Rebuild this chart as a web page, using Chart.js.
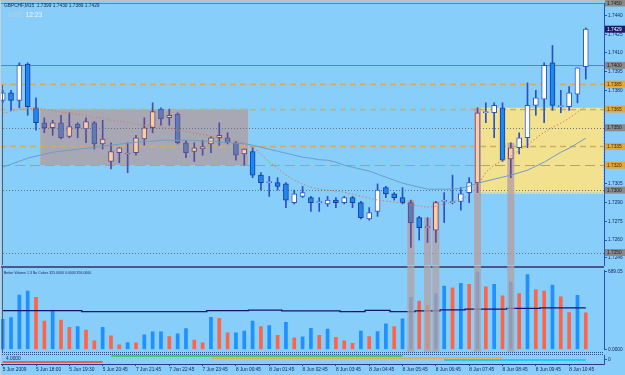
<!DOCTYPE html>
<html>
<head>
<meta charset="utf-8">
<script src="https://cdn.jsdelivr.net/npm/chart.js@4.4.1/dist/chart.umd.min.js"></script>
<style>
html,body{margin:0;padding:0;}
body{width:625px;height:375px;overflow:hidden;background:#87CEFA;}
#wrap{position:relative;width:625px;height:375px;background:#87CEFA;}
canvas{position:absolute;left:0;display:block;}
</style>
</head>
<body>
<div id="wrap">
<canvas id="cMain" width="625" height="266" style="top:0"></canvas>
<canvas id="cVol" width="625" height="89" style="top:266px"></canvas>
<canvas id="cInd" width="625" height="20" style="top:355px"></canvas>
</div>
<script>
// ---------------- DATA ----------------
const symbolTitle = 'GBPCHF,M15  1.7399 1.7430 1.7389 1.7429';
const gmtLabel = 'GMT:';
const gmtTime = '12:23';
const volTitle = 'Better Volume 1.3 No Colors 325.0000 0.0000 356.0000';
const stripTitle = '4.0000';

const openP  = [1.7372,1.7378,1.7372,1.7401,1.7366,1.7354,1.7350,1.7354,1.7343,1.7353,
                1.7349,1.7354,1.7337,1.7323,1.7330,1.7329,1.7330,1.7341,1.7350,1.7365,
                1.7358,1.7361,1.7338,1.7331,1.7333,1.7337,1.7342,1.7342,1.7338,1.7329,
                1.7331,1.7312,1.7306,1.7306,1.7305,1.7290,1.7295,1.7294,1.7290,1.7289,
                1.7292,1.7290,1.7294,1.7290,1.7277,1.7283,1.7302,1.7297,1.7294,1.7290,
                1.7278,1.7270,1.7268,1.7291,1.7290,1.7291,1.7298,1.7306,1.7362,1.7362,
                1.7366,1.7325,1.7334,1.7342,1.7368,1.7373,1.7402,1.7367,1.7367,1.7377,
                1.7399];
const highP  = [1.7380,1.7380,1.7402,1.7402,1.7374,1.7358,1.7356,1.7360,1.7362,1.7354,
                1.7358,1.7355,1.7356,1.7338,1.7334,1.7338,1.7344,1.7358,1.7370,1.7366,
                1.7365,1.7362,1.7340,1.7338,1.7340,1.7343,1.7354,1.7346,1.7339,1.7333,
                1.7334,1.7314,1.7311,1.7310,1.7306,1.7300,1.7303,1.7295,1.7294,1.7295,
                1.7294,1.7295,1.7295,1.7291,1.7286,1.7305,1.7303,1.7298,1.7302,1.7292,
                1.7279,1.7278,1.7291,1.7298,1.7312,1.7302,1.7310,1.7366,1.7370,1.7370,
                1.7370,1.7338,1.7346,1.7386,1.7380,1.7402,1.7416,1.7380,1.7383,1.7398,
                1.7430];
const lowP   = [1.7370,1.7364,1.7366,1.7360,1.7348,1.7346,1.7344,1.7341,1.7342,1.7342,
                1.7338,1.7333,1.7333,1.7317,1.7322,1.7314,1.7328,1.7336,1.7346,1.7352,
                1.7352,1.7337,1.7326,1.7323,1.7328,1.7330,1.7336,1.7337,1.7324,1.7320,
                1.7310,1.7300,1.7295,1.7300,1.7286,1.7289,1.7294,1.7283,1.7283,1.7287,
                1.7286,1.7289,1.7286,1.7277,1.7276,1.7279,1.7294,1.7292,1.7289,1.7254,
                1.7260,1.7258,1.7258,1.7274,1.7289,1.7284,1.7290,1.7298,1.7354,1.7342,
                1.7323,1.7310,1.7329,1.7334,1.7360,1.7354,1.7364,1.7362,1.7364,1.7370,
                1.7389];
const closeP = [1.7378,1.7372,1.7400,1.7367,1.7354,1.7350,1.7354,1.7342,1.7351,1.7350,
                1.7355,1.7337,1.7341,1.7331,1.7334,1.7329,1.7342,1.7350,1.7363,1.7357,
                1.7360,1.7338,1.7330,1.7334,1.7335,1.7342,1.7344,1.7338,1.7328,1.7333,
                1.7312,1.7306,1.7306,1.7303,1.7292,1.7297,1.7298,1.7290,1.7290,1.7292,
                1.7290,1.7294,1.7290,1.7278,1.7282,1.7300,1.7297,1.7294,1.7290,1.7274,
                1.7270,1.7270,1.7290,1.7291,1.7290,1.7297,1.7306,1.7362,1.7363,1.7368,
                1.7324,1.7334,1.7342,1.7368,1.7374,1.7400,1.7368,1.7367,1.7378,1.7398,
                1.7429];

const fastMA = [1.73616,1.73632,1.73648,1.73656,1.73656,1.73648,1.73640,1.73624,1.73616,1.73608,
                1.73600,1.73584,1.73576,1.73560,1.73552,1.73544,1.73528,1.73520,1.73512,1.73504,
                1.73496,1.73480,1.73472,1.73456,1.73448,1.73432,1.73416,1.73408,1.73392,1.73376,
                1.73344,1.73288,1.73224,1.73176,1.73120,1.73080,1.73048,1.73024,1.73008,1.73000,
                1.72992,1.72984,1.72968,1.72952,1.72936,1.72920,1.72912,1.72904,1.72896,1.72888,
                1.72872,1.72864,1.72872,1.72888,1.72904,1.72928,1.72960,1.73032,1.73144,1.73200,
                1.73240,1.73272,1.73320,1.73360,1.73416,1.73464,1.73504,1.73536,1.73576,1.73624,
                1.73672];
const slowMA = [1.73184,1.73208,1.73232,1.73256,1.73272,1.73288,1.73304,1.73312,1.73320,1.73328,
                1.73336,1.73344,1.73352,1.73360,1.73368,1.73376,1.73384,1.73392,1.73392,1.73400,
                1.73400,1.73400,1.73400,1.73400,1.73392,1.73392,1.73384,1.73384,1.73376,1.73372,
                1.73360,1.73344,1.73328,1.73312,1.73296,1.73280,1.73264,1.73256,1.73244,1.73240,
                1.73224,1.73200,1.73184,1.73168,1.73152,1.73128,1.73104,1.73080,1.73056,1.73040,
                1.73024,1.73008,1.73008,1.73008,1.73008,1.73016,1.73032,1.73056,1.73072,1.73088,
                1.73104,1.73120,1.73140,1.73160,1.73192,1.73224,1.73264,1.73304,1.73336,1.73376,
                1.73416];

const volume = [268,283,484,520,464,253,342,262,197,203,
                173,76,197,120,40,60,58,129,156,156,
                114,138,185,84,58,286,277,147,147,164,
                251,203,212,126,242,102,111,188,126,180,
                108,76,55,164,114,158,227,203,271,464,
                431,390,496,564,547,588,579,689.05,556,579,
                476,600,496,665,532,520,573,467,327,482,
                325];
const volMA  = [345,345,345,345,345,345,345,345,345,345,
                336,336,336,336,336,336,336,336,336,336,
                336,336,336,336,336,345,345,345,345,345,
                350,350,350,350,342,342,342,342,342,342,
                342,336,336,336,348,348,348,336,336,336,
                342,342,342,352,352,352,358,358,358,358,
                358,365,365,365,365,370,370,370,370,370,
                370];

const yTickVals   = [1.7440,1.7425,1.7410,1.7395,1.7380,1.7365,1.7350,1.7335,1.7320,1.7305,1.7290,1.7275,1.7260,1.7246];
const yTickLabels = ['1.7440','1.7425','1.7410','1.7395','1.7380','1.7365','1.7350','1.7335','1.7320','1.7305','1.7290','1.7275','1.7260','1.7246'];
const xTickIdx    = [0,4,8,12,16,20,24,28,32,36,40,44,48,52,56,60,64,68];
const xTickLabels = ['5 Jun 2009','5 Jun 18:00','5 Jun 19:30','5 Jun 20:45','7 Jun 21:45','7 Jun 22:45','7 Jun 23:45',
                     '8 Jun 00:45','8 Jun 01:45','8 Jun 02:45','8 Jun 03:45','8 Jun 04:45','8 Jun 05:45','8 Jun 06:45',
                     '8 Jun 07:45','8 Jun 08:45','8 Jun 09:45','8 Jun 10:45'];
const volTickVals   = [0, 689.05];
const volTickLabels = ['0.0000','689.05'];

const greyLevels   = [1.7450,1.7400,1.7350,1.7300,1.7250];
const orangeLevels = [1.7385,1.7365,1.7335,1.7320];
const currentPrice = 1.7429;
const bandBars = [49,51,52,57,61];
const greyBoxBars = [4.48,29.45], greyBoxPrices = [1.7320,1.7365];
const yellowBoxBars = [56.58,72.07], yellowBoxPrices = [1.7298,1.7366];
// indicator strip: [startBar, endBar, level]
const stripRed    = [0,12,-0.56];
const stripGreen  = [13,48,0.78];
const stripOrange = [25,60,0.33];
const stripCyan   = [53,70,-0.11];

// ---------------- LAYOUT / STYLE ----------------
const X_MIN = -0.324, X_MAX = 72.186;
const FONT = "'Liberation Sans', Arial, sans-serif";
const AXIS_BLUE = '#2A50C0';
const TXT = '#18205A';
Chart.defaults.font.family = FONT;
Chart.defaults.animation = false;

const idx = openP.map((_, i) => i);
const isUp = i => closeP[i] >= openP[i];
const special = i => (i > greyBoxBars[0] && i < greyBoxBars[1]) || bandBars.includes(i);
const bodyFill = idx.map(i => special(i) ? (isUp(i) ? '#FFCC9E' : '#5E7DB2') : (isUp(i) ? '#FFFFFF' : '#1E88F2'));
const bodyEdge = idx.map(i => special(i) ? '#5B4A9C' : (isUp(i) ? '#2E56C8' : '#1A3A9C'));
const wickCol  = idx.map(i => special(i) ? '#5B4A9C' : '#2A50C4');
const volCol   = volume.map((v, i) => (i === 0 || v >= volume[i - 1]) ? '#1E90FF' : '#FF6446');

function rightAxisFit(s){ s.width = 21; s.paddingTop = 0; s.paddingBottom = 0; }
const xHidden = {type:'linear', min:X_MIN, max:X_MAX, display:false, offset:false};
const baseOpts = {responsive:false, animation:false, devicePixelRatio:1,
  plugins:{legend:{display:false}, tooltip:{enabled:false}}};

function levelStyle(p, grey){
  if (grey) {
    const solid = p >= 1.7400;
    return {p, c: solid ? '#76808E' : '#687280', dash: solid ? [] : [1,2], w:1};
  }
  const longDash = Math.abs(p - 1.7320) < 1e-6;
  return {p, c: longDash ? '#B4A266' : '#D2AA60', dash: longDash ? [10,5] : [6,4], w: longDash ? 1 : 1.5};
}
const levelLines = greyLevels.map(p => levelStyle(p, true)).concat(orangeLevels.map(p => levelStyle(p, false)));

const priceTags = greyLevels.map(p => ({p, kind:'grey'}))
  .concat(orangeLevels.map(p => ({p, kind:'orange'})))
  .concat([{p: currentPrice, kind:'navy'}]);
const tagBg = {grey:'#8A8A8A', orange:'#E4A838', navy:'#1C1C6C'};
const tagFg = {grey:'#202020', orange:'#3A2A10', navy:'#FFFFFF'};

// ---------------- MAIN CHART ----------------
const mainDecor = {
  id:'mainDecor',
  beforeDatasetsDraw(chart){
    const {ctx, chartArea:a, scales:{x, y}} = chart;
    ctx.save();
    ctx.fillStyle = '#B8C0C8'; ctx.fillRect(0, 0, a.right, 1);
    const boxes = [[greyBoxBars, greyBoxPrices, '#A8A8B4', '#D8B890'], [yellowBoxBars, yellowBoxPrices, '#F2E290', '#FFF6C8']];
    boxes.forEach(([bx, bp, fill, edge]) => {
      const x0 = x.getPixelForValue(bx[0]), x1 = x.getPixelForValue(bx[1]);
      const y0 = y.getPixelForValue(bp[1]), y1 = y.getPixelForValue(bp[0]);
      ctx.fillStyle = fill; ctx.fillRect(x0, y0, x1 - x0, y1 - y0);
      ctx.setLineDash([1,2]); ctx.lineWidth = 1; ctx.strokeStyle = edge;
      ctx.strokeRect(Math.round(x0) + 0.5, Math.round(y0) + 0.5, Math.round(x1 - x0), Math.round(y1 - y0));
    });
    levelLines.forEach(l => {
      const yy = Math.round(y.getPixelForValue(l.p)) + 0.5;
      ctx.beginPath(); ctx.setLineDash(l.dash); ctx.strokeStyle = l.c; ctx.lineWidth = l.w;
      ctx.moveTo(a.left, yy); ctx.lineTo(a.right, yy); ctx.stroke();
    });
    ctx.setLineDash([]);
    ctx.fillStyle = 'rgba(182,160,162,0.8)';
    bandBars.forEach(i => {
      const cx = x.getPixelForValue(i), top = y.getPixelForValue(highP[i]);
      ctx.fillRect(cx - 3.5, top, 7, a.bottom - top);
    });
    ctx.restore();
  },
  afterDraw(chart){
    const {ctx, chartArea:a, scales:{y}} = chart;
    ctx.save();
    ctx.fillStyle = '#C8CED6'; ctx.fillRect(0, 0, 1, chart.height);
    ctx.fillStyle = '#50607A'; ctx.fillRect(2, 85, 1, a.bottom - 85);
    ctx.textAlign = 'left'; ctx.textBaseline = 'middle';
    ctx.font = '4.8px ' + FONT;
    priceTags.forEach(t => {
      const yy = y.getPixelForValue(t.p);
      ctx.fillStyle = tagBg[t.kind]; ctx.fillRect(605, yy - 3.5, 20, 7);
      ctx.fillStyle = tagFg[t.kind];
      ctx.fillText(t.p.toFixed(4), 607, yy + 0.3);
    });
    ctx.fillStyle = TXT; ctx.font = '4.8px ' + FONT;
    ctx.fillText(symbolTitle, 4, 6);
    ctx.font = '6.6px ' + FONT;
    ctx.fillStyle = '#C2CCD8'; ctx.fillText(gmtLabel, 8, 15);
    const w = ctx.measureText(gmtLabel + ' ').width;
    ctx.fillStyle = '#F2F6FA'; ctx.fillText(gmtTime, 8 + w, 15);
    ctx.restore();
  }
};

new Chart(document.getElementById('cMain'), {
  type:'bar',
  data:{datasets:[
    {type:'line', data: idx.map(i => ({x:i, y:fastMA[i]})), borderColor:'#D0805C', borderWidth:1, borderDash:[1.5,2], pointRadius:0, tension:0, order:1},
    {type:'line', data: idx.map(i => ({x:i, y:slowMA[i]})), borderColor:'#6E9CC8', borderWidth:1, pointRadius:0, tension:0, order:1},
    {type:'bar', data: idx.map(i => ({x:i, y:[openP[i], closeP[i]]})), backgroundColor: bodyFill, borderColor: bodyEdge,
      borderWidth:1, borderSkipped:false, barThickness:5, grouped:false, minBarLength:1, order:2},
    {type:'bar', data: idx.map(i => ({x:i, y:[lowP[i], highP[i]]})), backgroundColor: wickCol, borderWidth:0,
      barThickness:1, grouped:false, order:3}
  ]},
  options: Object.assign({}, baseOpts, {
    layout:{padding:{top:3, bottom:1, left:0, right:0}},
    scales:{
      x: xHidden,
      y: {type:'linear', position:'right', min:1.7240, max:1.7450,
          afterBuildTicks: s => { s.ticks = yTickVals.map(v => ({value:v})); },
          afterFit: rightAxisFit,
          ticks:{font:{size:4.8}, color:TXT, padding:1, autoSkip:false,
                 callback: v => { const k = yTickVals.findIndex(t => Math.abs(t - v) < 1e-7); return k >= 0 ? yTickLabels[k] : ''; }},
          grid:{drawOnChartArea:false, drawTicks:true, tickLength:3, color:AXIS_BLUE},
          border:{display:true, color:AXIS_BLUE, width:1}}
    }
  }),
  plugins:[mainDecor]
});

// ---------------- VOLUME CHART ----------------
const volDecor = {
  id:'volDecor',
  beforeDatasetsDraw(chart){
    const {ctx, chartArea:a} = chart;
    ctx.save();
    ctx.fillStyle = '#4A5888'; ctx.fillRect(0, 0, a.right, 2);
    ctx.restore();
  },
  afterDatasetsDraw(chart){
    const {ctx, chartArea:a, scales:{x}} = chart;
    ctx.save();
    ctx.fillStyle = 'rgba(182,160,162,0.75)';
    bandBars.forEach(i => {
      const cx = x.getPixelForValue(i);
      ctx.fillRect(cx - 3.5, 0, 7, 86);
    });
    ctx.strokeStyle = '#3A4A8A'; ctx.lineWidth = 1; ctx.setLineDash([1,1]);
    [86.5, 88.5].forEach(yy => { ctx.beginPath(); ctx.moveTo(0, yy); ctx.lineTo(a.right, yy); ctx.stroke(); });
    ctx.setLineDash([]);
    ctx.fillStyle = '#C8CED6'; ctx.fillRect(0, 0, 1, chart.height);
    ctx.fillStyle = '#50607A'; ctx.fillRect(2, 2, 1, 84);
    ctx.fillStyle = TXT; ctx.font = '3.5px ' + FONT; ctx.textBaseline = 'middle'; ctx.textAlign = 'left';
    ctx.fillText(volTitle, 4, 7);
    ctx.restore();
  }
};

new Chart(document.getElementById('cVol'), {
  type:'bar',
  data:{datasets:[
    {type:'line', data: idx.map(i => ({x:i, y:volMA[i]})), borderColor:'#14146E', borderWidth:1.3, pointRadius:0, stepped:'middle', order:1},
    {type:'bar', data: idx.map(i => ({x:i, y:volume[i]})), backgroundColor: volCol, borderWidth:0, barThickness:3, grouped:false, order:2}
  ]},
  options: Object.assign({}, baseOpts, {
    layout:{padding:{top:4.75, bottom:5.6, left:0, right:0}},
    scales:{
      x: xHidden,
      y: {type:'linear', position:'right', min:0, max:700,
          afterBuildTicks: s => { s.ticks = volTickVals.map(v => ({value:v})); },
          afterFit: rightAxisFit,
          ticks:{font:{size:4.8}, color:TXT, padding:1, autoSkip:false,
                 callback: v => { const k = volTickVals.findIndex(t => Math.abs(t - v) < 1e-6); return k >= 0 ? volTickLabels[k] : ''; }},
          grid:{drawOnChartArea:false, drawTicks:true, tickLength:3, color:AXIS_BLUE},
          border:{display:true, color:AXIS_BLUE, width:1}}
    }
  }),
  plugins:[volDecor]
});

// ---------------- INDICATOR STRIP + TIME AXIS ----------------
function spanData(s){ return [{x:s[0], y:s[2]}, {x:s[1], y:s[2]}]; }
const stripDecor = {
  id:'stripDecor',
  afterDraw(chart){
    const {ctx} = chart;
    ctx.save();
    ctx.fillStyle = TXT; ctx.font = '4.8px ' + FONT; ctx.textBaseline = 'middle'; ctx.textAlign = 'left';
    ctx.fillText(stripTitle, 6, 4);
    ctx.fillStyle = '#C8CED6'; ctx.fillRect(0, 0, 1, chart.height);
    ctx.restore();
  }
};
new Chart(document.getElementById('cInd'), {
  type:'line',
  data:{datasets:[
    {data: spanData(stripGreen),  borderColor:'#32CD32', borderWidth:1.3, pointRadius:0},
    {data: spanData(stripOrange), borderColor:'#FFA820', borderWidth:1.3, pointRadius:0},
    {data: spanData(stripCyan),   borderColor:'#00C8FF', borderWidth:1.3, pointRadius:0},
    {data: spanData(stripRed),    borderColor:'#FF3C1E', borderWidth:1.3, pointRadius:0}
  ]},
  options: Object.assign({}, baseOpts, {
    layout:{padding:{top:0, bottom:0, left:0, right:0}},
    scales:{
      x: {type:'linear', min:X_MIN, max:X_MAX, offset:false, position:'bottom',
          afterBuildTicks: s => { s.ticks = xTickIdx.map(v => ({value:v})); },
          afterFit: s => { s.height = 11; s.paddingLeft = 0; s.paddingRight = 0; },
          ticks:{font:{size:4.8}, color:TXT, align:'start', padding:1, autoSkip:false, maxRotation:0, minRotation:0,
                 callback: v => { const k = xTickIdx.indexOf(v); return k >= 0 ? xTickLabels[k] : ''; }},
          grid:{drawOnChartArea:false, drawTicks:true, tickLength:2, color:'#2A3A8A'},
          border:{display:true, color:'#2A3A8A', width:1}},
      y: {type:'linear', position:'right', min:-1, max:1,
          afterBuildTicks: s => { s.ticks = [{value:0}]; },
          afterFit: rightAxisFit,
          ticks:{font:{size:4.8}, color:TXT, padding:1, callback: () => '0'},
          grid:{drawOnChartArea:false, drawTicks:true, tickLength:3, color:AXIS_BLUE},
          border:{display:true, color:AXIS_BLUE, width:1}}
    }
  }),
  plugins:[stripDecor]
});
</script>
</body>
</html>
